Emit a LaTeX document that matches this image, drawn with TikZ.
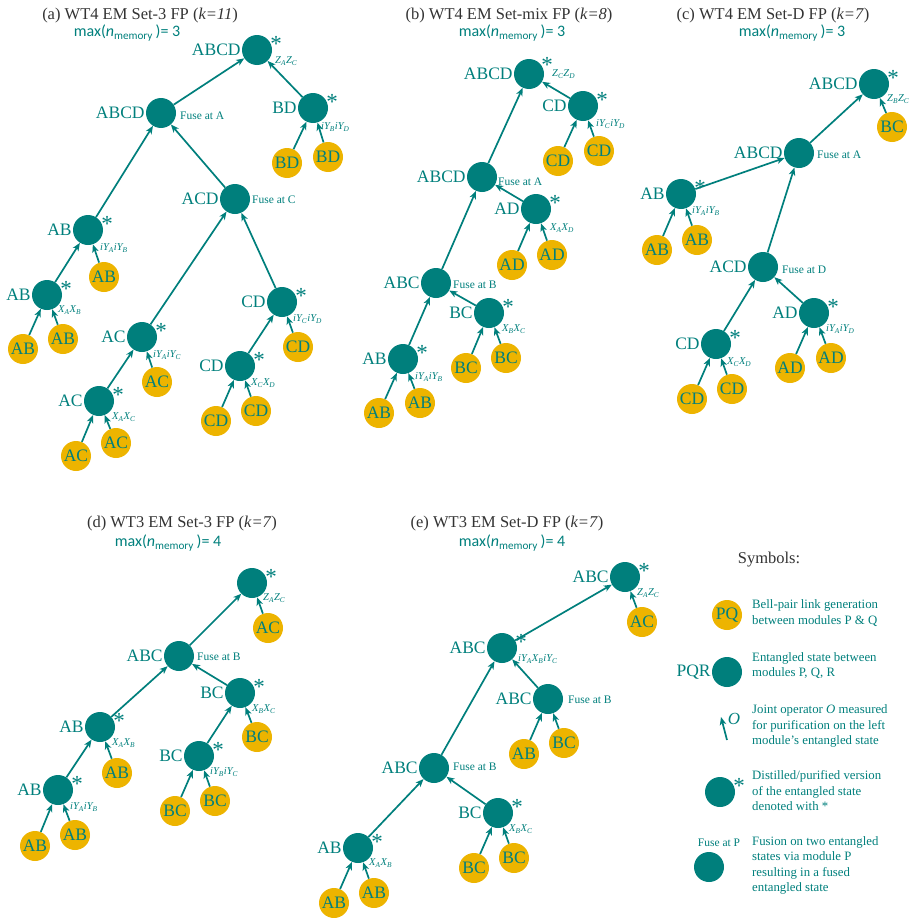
\documentclass[tikz,border=0pt]{standalone}
\usepackage{fontspec}
\setmainfont{Liberation Serif}
\newfontfamily\carl{Carlito}
\usetikzlibrary{arrows.meta,calc}
\definecolor{tealc}{RGB}{0,127,124}
\definecolor{goldc}{RGB}{237,180,0}
\definecolor{titlec}{RGB}{51,51,51}
\newcommand\sbs[1]{\textsubscript{#1}}
\tikzset{
  ent/.style={circle, fill=tealc, minimum size=30pt, inner sep=0pt},
  link/.style={circle, fill=goldc, minimum size=30pt, inner sep=0pt, text=tealc, font=\fontsize{17.5}{17.5}\selectfont},
  lab/.style={text=tealc, font=\fontsize{17.5}{17.5}\selectfont, inner sep=1pt},
  fuse/.style={text=tealc, font=\fontsize{11.5}{12}\selectfont, anchor=west, inner sep=0pt},
  opl/.style={text=tealc, font=\fontsize{10.5}{11}\selectfont\itshape, anchor=west, inner sep=0pt},
  dst/.style={text=tealc, font=\fontsize{23}{23}\selectfont, inner sep=0pt, anchor=base},
  feed/.style={draw=tealc, line width=1.7pt, -{Stealth[length=8pt,width=6.5pt,inset=2.2pt]}},
  ttl/.style={text=titlec, font=\fontsize{16.5}{17}\selectfont, inner sep=0pt},
  mem/.style={text=tealc, font=\carl\fontsize{16}{17}\selectfont, inner sep=0pt},
  legtxt/.style={text=tealc, font=\fontsize{12.8}{15.5}\selectfont, align=left, anchor=west, inner sep=0pt},
}
% entangled state with a left-hand name
\newcommand\est[4]{\node[ent, label={[lab]left:#4}] (#1) at (#2,#3) {};}
% asterisk marking a distilled state
\newcommand\dst[1]{\node[dst] (#1-s) at ($(#1)+(19,1)$) {*};}
\begin{document}
\begin{tikzpicture}[x=1pt,y=-1pt]
\useasboundingbox (0,0) rectangle (908,918);

% ---------------- (a) ----------------
\node[ttl] (ta) at (140,16) {(a) WT4 EM Set-3 FP (\textit{k=11})};
\node[mem] (ma) at (127,33) {max(\textit{n}\textsubscript{memory}\,)= 3};
\est{a1}{257}{50}{ABCD} \dst{a1}
\node[opl] (a1-o) at (275,61) {Z\sbs{A}Z\sbs{C}};
\est{a2}{161}{113}{ABCD}
\node[fuse] (a2-f) at (180,116) {Fuse at A};
\est{a3}{313}{108}{BD} \dst{a3}
\node[opl] (a3-o) at (321,127) {iY\sbs{B}iY\sbs{D}};
\node[link] (a3l1) at (287,163) {BD};
\node[link] (a3l2) at (328,157) {BD};
\est{a4}{235}{199}{ACD}
\node[fuse] (a4-f) at (252,200) {Fuse at C};
\est{a5}{88}{230}{AB} \dst{a5}
\node[opl] (a5-o) at (100,248) {iY\sbs{A}iY\sbs{B}};
\node[link] (a5l) at (104,277) {AB};
\est{a6}{47}{295}{AB} \dst{a6}
\node[opl] (a6-o) at (58,310) {X\sbs{A}X\sbs{B}};
\node[link] (a6l1) at (23,349) {AB};
\node[link] (a6l2) at (63,339) {AB};
\est{a7}{142}{337}{AC} \dst{a7}
\node[opl] (a7-o) at (153,355) {iY\sbs{A}iY\sbs{C}};
\node[link] (a7l) at (157,382) {AC};
\est{a8}{99}{401}{AC} \dst{a8}
\node[opl] (a8-o) at (112,417) {X\sbs{A}X\sbs{C}};
\node[link] (a8l1) at (76,456) {AC};
\node[link] (a8l2) at (116,443) {AC};
\est{a9}{282}{302}{CD} \dst{a9}
\node[opl] (a9-o) at (293,319) {iY\sbs{C}iY\sbs{D}};
\node[link] (a9l) at (298,347) {CD};
\est{a10}{240}{366}{CD} \dst{a10}
\node[opl] (a10-o) at (251,383) {X\sbs{C}X\sbs{D}};
\node[link] (a10l1) at (216,421) {CD};
\node[link] (a10l2) at (256,411) {CD};
\foreach \s/\t in {a2/a1,a3/a1,a3l1/a3,a3l2/a3,a5/a2,a4/a2,a5l/a5,a6/a5,a6l1/a6,a6l2/a6,
  a7/a4,a9/a4,a7l/a7,a8/a7,a8l1/a8,a8l2/a8,a9l/a9,a10/a9,a10l1/a10,a10l2/a10}
  \draw[feed] (\s) -- (\t);

% ---------------- (b) ----------------
\node[ttl] (tb) at (509,16) {(b) WT4 EM Set-mix FP (\textit{k=8})};
\node[mem] (mb) at (512,33) {max(\textit{n}\textsubscript{memory}\,)= 3};
\est{b1}{529}{74}{ABCD}
\node[dst] (b1-s) at ($(b1)+(18,-2)$) {*};
\node[opl] (b1-o) at (552,74) {Z\sbs{C}Z\sbs{D}};
\est{b2}{583}{106}{CD} \dst{b2}
\node[opl] (b2-o) at (596,124) {iY\sbs{C}iY\sbs{D}};
\node[link] (b2l1) at (558,161) {CD};
\node[link] (b2l2) at (599,151) {CD};
\est{b3}{482}{177}{ABCD}
\node[fuse] (b3-f) at (498,182) {Fuse at A};
\est{b4}{536}{209}{AD} \dst{b4}
\node[opl] (b4-o) at (550,228) {X\sbs{A}X\sbs{D}};
\node[link] (b4l1) at (512,265) {AD};
\node[link] (b4l2) at (552,255) {AD};
\est{b5}{436}{283}{ABC}
\node[fuse] (b5-f) at (453,285) {Fuse at B};
\est{b6}{489}{313}{BC} \dst{b6}
\node[opl] (b6-o) at (502,329) {X\sbs{B}X\sbs{C}};
\node[link] (b6l1) at (466,368) {BC};
\node[link] (b6l2) at (506,358) {BC};
\est{b7}{403}{359}{AB} \dst{b7}
\node[opl] (b7-o) at (415,377) {iY\sbs{A}iY\sbs{B}};
\node[link] (b7l1) at (379,413) {AB};
\node[link] (b7l2) at (420,403) {AB};
\foreach \s/\t in {b3/b1,b2/b1,b2l1/b2,b2l2/b2,b4/b3,b5/b3,b4l1/b4,b4l2/b4,
  b6/b5,b7/b5,b6l1/b6,b6l2/b6,b7l1/b7,b7l2/b7}
  \draw[feed] (\s) -- (\t);

% ---------------- (c) ----------------
\node[ttl] (tc) at (773,16) {(c) WT4 EM Set-D FP (\textit{k=7})};
\node[mem] (mc) at (792,33) {max(\textit{n}\textsubscript{memory}\,)= 3};
\est{c1}{874}{84}{ABCD} \dst{c1}
\node[opl] (c1-o) at (887,99) {Z\sbs{B}Z\sbs{C}};
\node[link] (c1l) at (892,127) {BC};
\est{c2}{799}{153}{ABCD}
\node[fuse] (c2-f) at (817,155) {Fuse at A};
\est{c3}{681}{194}{AB} \dst{c3}
\node[opl] (c3-o) at (692,211) {iY\sbs{A}iY\sbs{B}};
\node[link] (c3l1) at (657,250) {AB};
\node[link] (c3l2) at (697,240) {AB};
\est{c4}{763}{267}{ACD}
\node[fuse] (c4-f) at (782,270) {Fuse at D};
\est{c5}{814}{313}{AD} \dst{c5}
\node[opl] (c5-o) at (826,329) {iY\sbs{A}iY\sbs{D}};
\node[link] (c5l1) at (790,368) {AD};
\node[link] (c5l2) at (831,358) {AD};
\est{c6}{716}{344}{CD} \dst{c6}
\node[opl] (c6-o) at (727,362) {X\sbs{C}X\sbs{D}};
\node[link] (c6l1) at (692,399) {CD};
\node[link] (c6l2) at (732,389) {CD};
\foreach \s/\t in {c2/c1,c1l/c1,c3/c2,c4/c2,c3l1/c3,c3l2/c3,c6/c4,c5/c4,
  c5l1/c5,c5l2/c5,c6l1/c6,c6l2/c6}
  \draw[feed] (\s) -- (\t);

% ---------------- (d) ----------------
\node[ttl] (td) at (182,524) {(d) WT3 EM Set-3 FP (\textit{k=7})};
\node[mem] (md) at (168,543) {max(\textit{n}\textsubscript{memory}\,)= 4};
\node[ent] (d1) at (252,583) {}; \dst{d1}
\node[opl] (d1-o) at (263,598) {Z\sbs{A}Z\sbs{C}};
\node[link] (d1l) at (268,628) {AC};
\est{d2}{179}{656}{ABC}
\node[fuse] (d2-f) at (197,657) {Fuse at B};
\est{d3}{240}{693}{BC} \dst{d3}
\node[opl] (d3-o) at (252,709) {X\sbs{B}X\sbs{C}};
\node[link] (d3l) at (257,737) {BC};
\est{d4}{100}{727}{AB} \dst{d4}
\node[opl] (d4-o) at (112,743) {X\sbs{A}X\sbs{B}};
\node[link] (d4l) at (117,773) {AB};
\est{d5}{58}{790}{AB} \dst{d5}
\node[opl] (d5-o) at (70,807) {iY\sbs{A}iY\sbs{B}};
\node[link] (d5l1) at (35,846) {AB};
\node[link] (d5l2) at (75,835) {AB};
\est{d6}{199}{756}{BC} \dst{d6}
\node[opl] (d6-o) at (210,772) {iY\sbs{B}iY\sbs{C}};
\node[link] (d6l1) at (175,811) {BC};
\node[link] (d6l2) at (215,801) {BC};
\foreach \s/\t in {d2/d1,d1l/d1,d4/d2,d3/d2,d4l/d4,d5/d4,d5l1/d5,d5l2/d5,
  d3l/d3,d6/d3,d6l1/d6,d6l2/d6}
  \draw[feed] (\s) -- (\t);

% ---------------- (e) ----------------
\node[ttl] (te) at (507,524) {(e) WT3 EM Set-D FP (\textit{k=7})};
\node[mem] (me) at (512,543) {max(\textit{n}\textsubscript{memory}\,)= 4};
\est{e1}{625}{577}{ABC} \dst{e1}
\node[opl] (e1-o) at (637,593) {Z\sbs{A}Z\sbs{C}};
\node[link] (e1l) at (642,622) {AC};
\est{e2}{502}{648}{ABC} \dst{e2}
\node[opl] (e2-o) at (518,659) {iY\sbs{A}X\sbs{B}iY\sbs{C}};
\est{e3}{548}{699}{ABC}
\node[fuse] (e3-f) at (568,700) {Fuse at B};
\node[link] (e3l1) at (524,754) {AB};
\node[link] (e3l2) at (564,743) {BC};
\est{e4}{434}{768}{ABC}
\node[fuse] (e4-f) at (453,767) {Fuse at B};
\est{e5}{498}{813}{BC} \dst{e5}
\node[opl] (e5-o) at (509,829) {X\sbs{B}X\sbs{C}};
\node[link] (e5l1) at (474,868) {BC};
\node[link] (e5l2) at (514,858) {BC};
\est{e6}{358}{848}{AB} \dst{e6}
\node[opl] (e6-o) at (369,863) {X\sbs{A}X\sbs{B}};
\node[link] (e6l1) at (334,903) {AB};
\node[link] (e6l2) at (374,893) {AB};
\foreach \s/\t in {e2/e1,e1l/e1,e4/e2,e3/e2,e3l1/e3,e3l2/e3,e6/e4,e5/e4,
  e5l1/e5,e5l2/e5,e6l1/e6,e6l2/e6}
  \draw[feed] (\s) -- (\t);

% ---------------- symbols ----------------
\node[ttl] (sy) at (769,560) {Symbols:};
\node[link] (g1) at (727,615) {PQ};
\node[legtxt] (g1-t) at (752,613) {Bell-pair link generation\\between modules P \& Q};
\est{g2}{727}{672}{PQR}
\node[legtxt] (g2-t) at (752,665.5) {Entangled state between\\modules P, Q, R};
\coordinate (gA) at (727,740);
\coordinate (gB) at (721,717);
\draw[feed] (gA) -- (gB);
\node[lab, font=\fontsize{17}{17}\selectfont\itshape] (gO) at (734,719) {O};
\node[legtxt] (g3-t) at (752,726) {Joint operator \textit{O} measured\\for purification on the left\\module's entangled state};
\node[ent] (g4) at (720,792) {}; \dst{g4}
\node[legtxt] (g4-t) at (752,791) {Distilled/purified version\\of the entangled state\\denoted with *};
\node[ent] (g5) at (709,867) {};
\node[fuse, anchor=center] (g5-f) at (719,843) {Fuse at P};
\node[legtxt] (g5-t) at (752,865.5) {Fusion on two entangled\\states via module P\\resulting in a fused\\entangled state};
\end{tikzpicture}
\end{document}
